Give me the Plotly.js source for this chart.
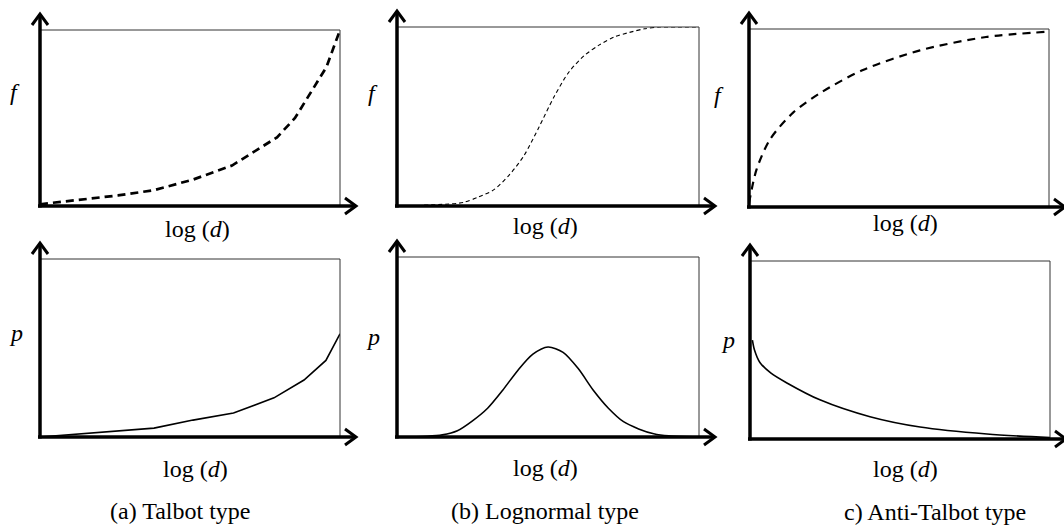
<!DOCTYPE html>
<html>
<head>
<meta charset="utf-8">
<script src="https://cdn.plot.ly/plotly-3.0.1.min.js"></script>
<style>html,body{margin:0;padding:0;background:#fff;}#chart{width:1064px;height:531px;}</style>
</head>
<body>
<div id="chart"></div>
<script>
// ---- Data (normalised log(d) on x, normalised f / p on y) ----
const xTalbotF = [0, 0.13, 0.2, 0.26, 0.38, 0.51, 0.64, 0.79, 0.85, 0.9, 0.955, 1.0];
const yTalbotF = [0.01, 0.035, 0.05, 0.06, 0.09, 0.15, 0.23, 0.39, 0.5, 0.64, 0.79, 1.0];

const xLognormF = [0.09, 0.16, 0.22, 0.27, 0.32, 0.37, 0.42, 0.47, 0.52, 0.57, 0.62, 0.67, 0.72, 0.77, 0.82, 0.87, 0.93, 1.0];
const yLognormF = [0.005, 0.01, 0.02, 0.05, 0.09, 0.17, 0.28, 0.44, 0.61, 0.75, 0.84, 0.9, 0.945, 0.97, 0.99, 1.0, 1.0, 1.0];

const xAntiF = [0, 0.025, 0.07, 0.147, 0.237, 0.38, 0.57, 0.79, 1.0];
const yAntiF = [0.02, 0.21, 0.38, 0.53, 0.64, 0.77, 0.88, 0.955, 0.985];

const xTalbotP = [0, 0.38, 0.51, 0.645, 0.78, 0.88, 0.953, 1.0];
const yTalbotP = [0, 0.05, 0.095, 0.135, 0.22, 0.32, 0.43, 0.58];

const xLognormP = [0, 0.1, 0.15, 0.2, 0.25, 0.3, 0.35, 0.4, 0.45, 0.5, 0.55, 0.6, 0.65, 0.7, 0.75, 0.8, 0.85, 0.9, 1.0];
const yLognormP = [0, 0.004, 0.012, 0.035, 0.09, 0.16, 0.26, 0.37, 0.46, 0.5, 0.47, 0.38, 0.26, 0.16, 0.085, 0.045, 0.018, 0.006, 0];

const xAntiP = [0.008, 0.015, 0.033, 0.07, 0.123, 0.233, 0.4, 0.567, 0.79, 1.0];
const yAntiP = [0.556, 0.5, 0.43, 0.37, 0.315, 0.22, 0.125, 0.067, 0.028, 0.008];

const yLabelsTop = ['f', 'f', 'f'];
const yLabelsBottom = ['p', 'p', 'p'];
const xLabel = 'log (<i>d</i>)';
const captions = ['(a) Talbot type', '(b) Lognormal type', 'c) Anti-Talbot type'];

// ---- Layout geometry (pixels) ----
const W = 1064, H = 531;
const boxes = [
  {l: 40,  r: 340,  t: 30,  b: 206},
  {l: 397, r: 699,  t: 27,  b: 206},
  {l: 749, r: 1049, t: 29,  b: 207},
  {l: 40,  r: 340,  t: 259, b: 437},
  {l: 397, r: 699,  t: 257, b: 437},
  {l: 750, r: 1050, t: 261, b: 439}
];
const X = px => px / W;
const Y = py => 1 - py / H;

const series = [
  {x: xTalbotF,  y: yTalbotF,  dash: '8px,5px', width: 2.7, shape: 'linear'},
  {x: xLognormF, y: yLognormF, dash: '4px,3px', width: 1.1, shape: 'spline'},
  {x: xAntiF,    y: yAntiF,    dash: '8px,6px', width: 2.2, shape: 'spline'},
  {x: xTalbotP,  y: yTalbotP,  dash: 'solid',   width: 1.6, shape: 'linear'},
  {x: xLognormP, y: yLognormP, dash: 'solid',   width: 1.6, shape: 'spline'},
  {x: xAntiP,    y: yAntiP,    dash: 'solid',   width: 1.6, shape: 'spline'}
];

const FONT = 'Liberation Serif, DejaVu Serif, serif';
const traces = [];
const layout = {
  width: W, height: H,
  margin: {l: 0, r: 0, t: 0, b: 0},
  paper_bgcolor: '#fff', plot_bgcolor: 'rgba(0,0,0,0)',
  showlegend: false,
  font: {family: FONT, color: '#000', size: 24},
  shapes: [],
  annotations: []
};

const AX = 3.5, EXT = 16, HEAD_D = 11, HEAD_H = 8;
boxes.forEach((b, i) => {
  const n = i === 0 ? '' : String(i + 1);
  layout['xaxis' + n] = {domain: [X(b.l), X(b.r)], range: [0, 1], visible: false, fixedrange: true};
  layout['yaxis' + n] = {domain: [Y(b.b), Y(b.t)], range: [0, 1], visible: false, fixedrange: true};
  const s = series[i];
  traces.push({
    type: 'scatter', mode: 'lines', x: s.x, y: s.y,
    xaxis: 'x' + n, yaxis: 'y' + n, cliponaxis: false,
    line: {color: '#000', width: s.width, dash: s.dash, shape: s.shape, smoothing: 0.8},
    hoverinfo: 'skip'
  });
  // thin box
  layout.shapes.push({type: 'rect', xref: 'paper', yref: 'paper',
    x0: X(b.l), x1: X(b.r), y0: Y(b.b), y1: Y(b.t), line: {color: '#333', width: 1}});
  // thick axes
  layout.shapes.push({type: 'line', xref: 'paper', yref: 'paper',
    x0: X(b.l - 2), x1: X(b.r + EXT), y0: Y(b.b), y1: Y(b.b), line: {color: '#000', width: AX}});
  layout.shapes.push({type: 'line', xref: 'paper', yref: 'paper',
    x0: X(b.l), x1: X(b.l), y0: Y(b.b + 1.5), y1: Y(b.t - EXT), line: {color: '#000', width: AX}});
  // arrow heads (open chevrons)
  const tx = b.r + EXT, ty = b.b;
  layout.shapes.push({type: 'path', xref: 'paper', yref: 'paper',
    path: `M ${X(tx - HEAD_D)},${Y(ty - HEAD_H)} L ${X(tx)},${Y(ty)} L ${X(tx - HEAD_D)},${Y(ty + HEAD_H)}`,
    line: {color: '#000', width: 3}});
  const ux = b.l, uy = b.t - EXT;
  layout.shapes.push({type: 'path', xref: 'paper', yref: 'paper',
    path: `M ${X(ux - HEAD_H)},${Y(uy + HEAD_D)} L ${X(ux)},${Y(uy)} L ${X(ux + HEAD_H)},${Y(uy + HEAD_D)}`,
    line: {color: '#000', width: 3}});
});

// text annotations
const yLabPos = [[15, 92], [373, 93], [719, 95], [16, 333], [373, 337], [728, 340]];
const yLabTxt = yLabelsTop.concat(yLabelsBottom);
yLabPos.forEach((p, i) => {
  layout.annotations.push({xref: 'paper', yref: 'paper', x: X(p[0]), y: Y(p[1]),
    text: '<i>' + yLabTxt[i] + '</i>', showarrow: false, xanchor: 'center', yanchor: 'middle',
    font: {family: FONT, size: 24}});
});
const xLabPos = [[197, 229], [545, 226], [905, 223], [195, 469], [545, 468], [905, 469]];
xLabPos.forEach(p => {
  layout.annotations.push({xref: 'paper', yref: 'paper', x: X(p[0]), y: Y(p[1]),
    text: xLabel, showarrow: false, xanchor: 'center', yanchor: 'middle', font: {family: FONT, size: 24}});
});
const capPos = [[180, 511], [545, 511], [935, 512]];
capPos.forEach((p, i) => {
  layout.annotations.push({xref: 'paper', yref: 'paper', x: X(p[0]), y: Y(p[1]),
    text: captions[i], showarrow: false, xanchor: 'center', yanchor: 'middle', font: {family: FONT, size: 24}});
});

Plotly.newPlot('chart', traces, layout, {displayModeBar: false, staticPlot: true});
</script>
</body>
</html>
